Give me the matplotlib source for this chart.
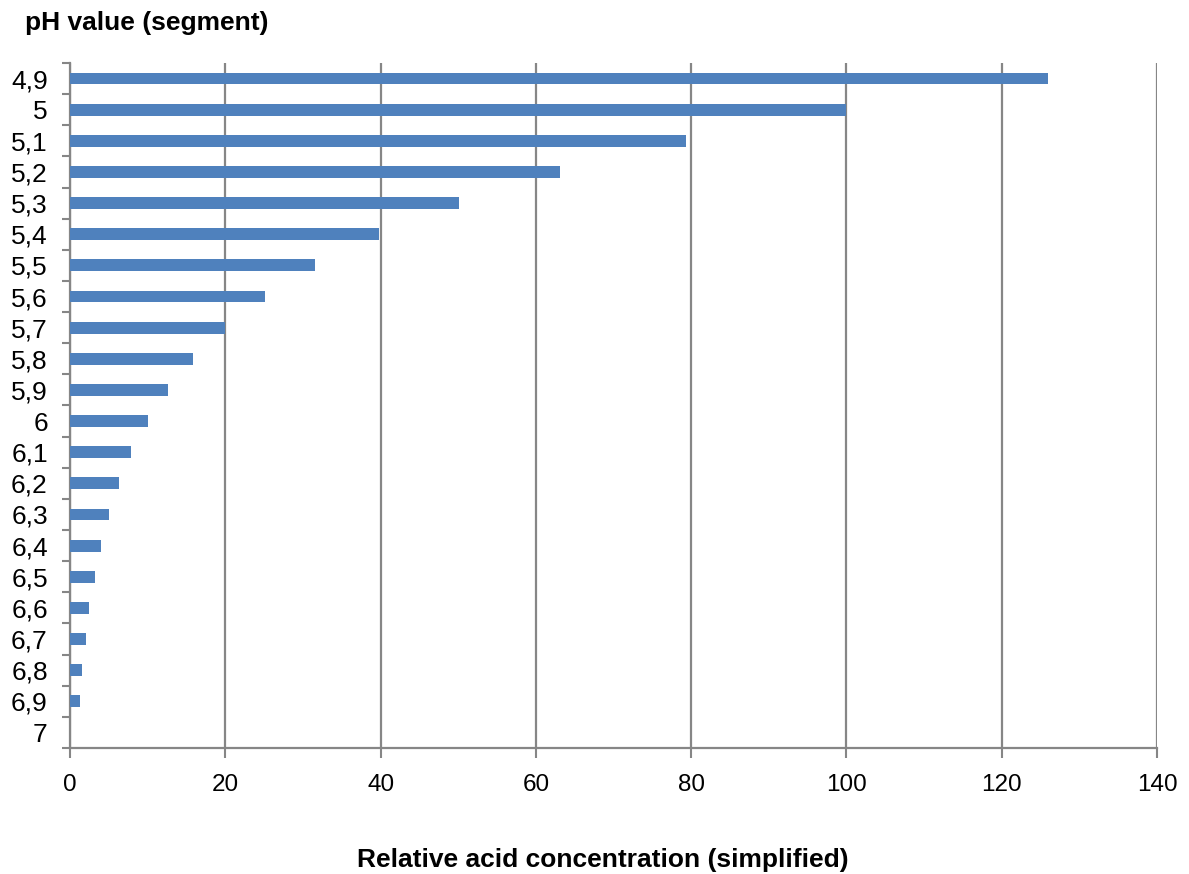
import matplotlib.pyplot as plt
import matplotlib.ticker as mticker

# pH segments (top to bottom) and their relative acid concentration
ph_labels = ["4,9", "5", "5,1", "5,2", "5,3", "5,4", "5,5", "5,6", "5,7", "5,8", "5,9",
             "6", "6,1", "6,2", "6,3", "6,4", "6,5", "6,6", "6,7", "6,8", "6,9", "7"]
concentration = [125.9, 100.0, 79.4, 63.1, 50.1, 39.8, 31.6, 25.1, 20.0, 15.8, 12.6,
                 10.0, 7.9, 6.3, 5.0, 4.0, 3.2, 2.5, 2.0, 1.6, 1.3, 0.0]

plt.rcParams['font.family'] = ['Liberation Sans', 'DejaVu Sans']

fig = plt.figure(figsize=(11.89, 8.74), dpi=100)
ax = fig.add_axes([70 / 1189, 1 - 748 / 874, (1157 - 70) / 1189, (748 - 63) / 874])

n = len(ph_labels)
ypos = list(range(n))
ax.barh(ypos, concentration, height=0.38, color='#4f81bd', linewidth=0, zorder=3)

ax.set_xlim(0, 140)
ax.set_ylim(n - 0.5, -0.5)
ax.xaxis.set_major_locator(mticker.MultipleLocator(20))

# category labels sit between boundary ticks
ax.set_yticks([i - 0.5 for i in range(n + 1)])
ax.set_yticklabels([])
ax.set_yticks(ypos, minor=True)
ax.set_yticklabels(ph_labels, minor=True)
ax.tick_params(axis='y', which='major', length=6, width=1.5, color='#868686')
ax.tick_params(axis='y', which='minor', length=0, pad=16, labelsize=19)
ax.tick_params(axis='x', length=7, width=1.5, color='#868686', pad=12, labelsize=17.5)

ax.grid(axis='x', color='#868686', linewidth=1.6, zorder=0)
for side in ['top', 'right']:
    ax.spines[side].set_visible(False)
for side in ['left', 'bottom']:
    ax.spines[side].set_color('#868686')
    ax.spines[side].set_linewidth(1.6)

fig.text(25 / 1189, 1 - 23 / 874, "pH value (segment)", fontsize=19, fontweight='bold',
         ha='left', va='center')
fig.text(603 / 1189, 1 - 860 / 874, "Relative acid concentration (simplified)", fontsize=19,
         fontweight='bold', ha='center', va='center')

fig.savefig("out.png", dpi=100)
